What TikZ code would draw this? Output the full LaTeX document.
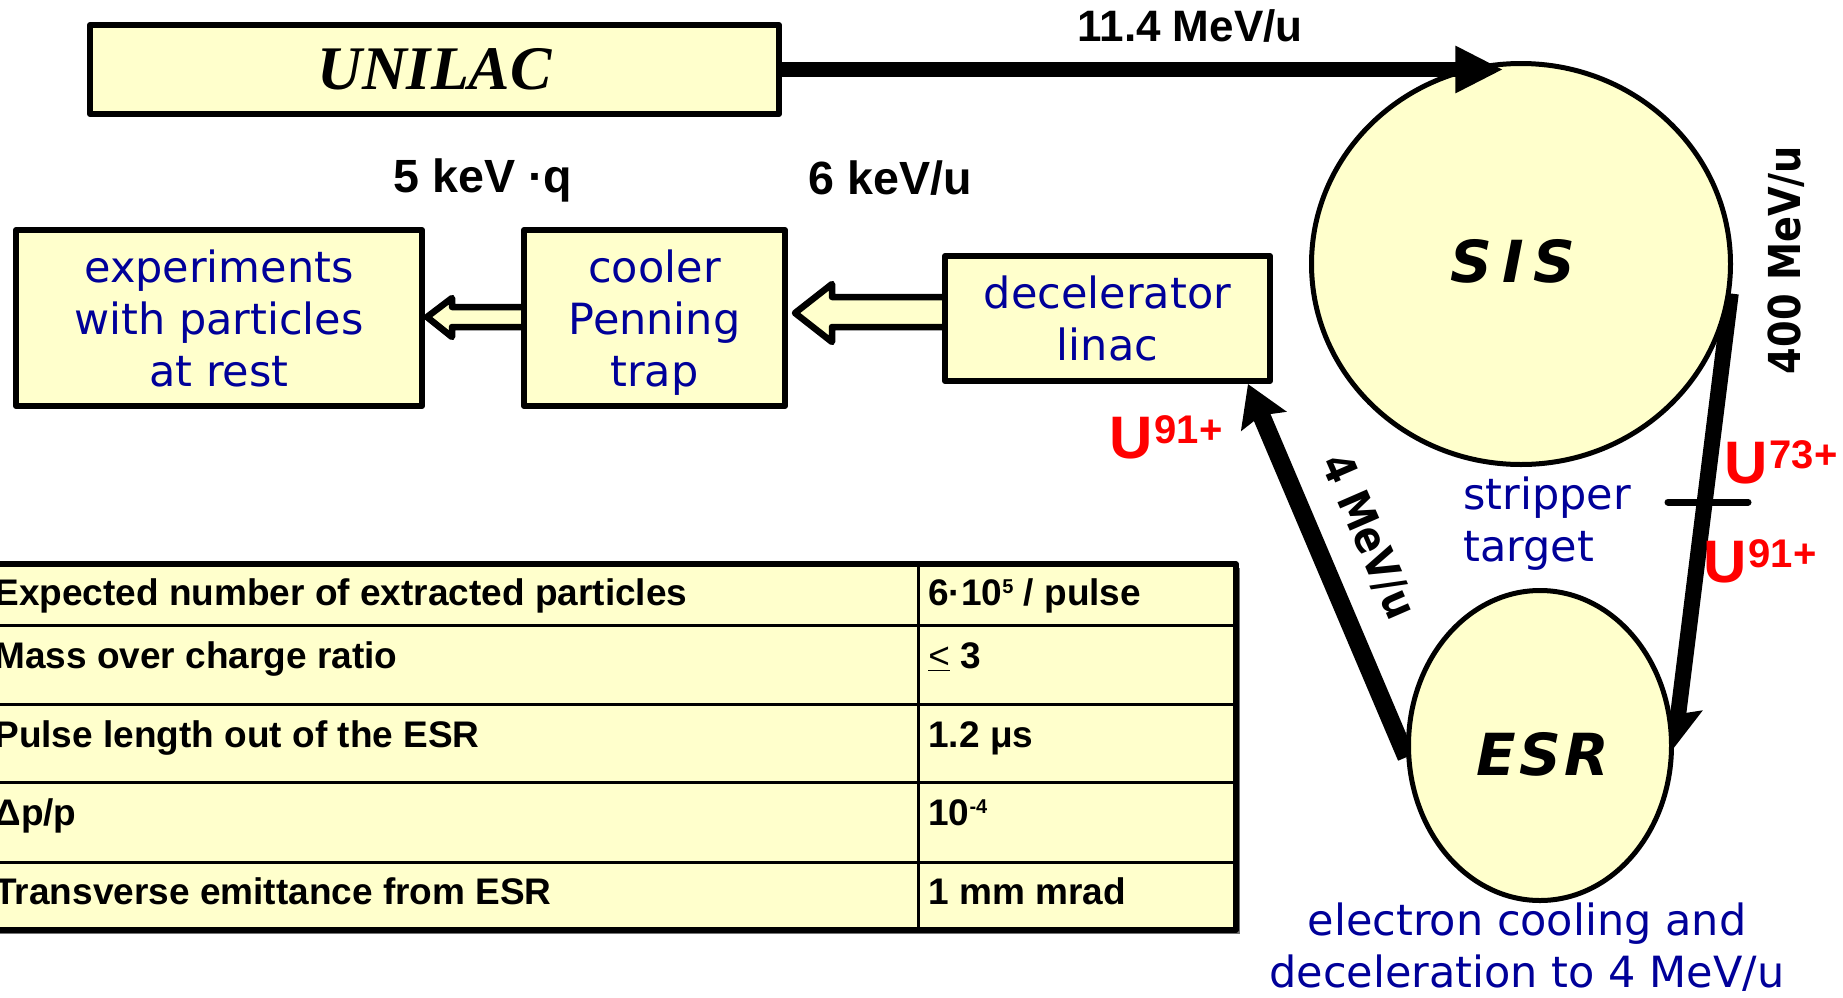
\documentclass[tikz,border=0pt]{standalone}
\usepackage{fontspec}
\setmainfont{Liberation Sans}
\newfontfamily\comic{DejaVu Sans}
\newfontfamily\verd{DejaVu Sans}
\newfontfamily\tms{Liberation Serif}
\usetikzlibrary{arrows.meta,shapes.geometric,calc}
\pgfdeclarelayer{back}
\pgfsetlayers{back,main}
\definecolor{fillY}{HTML}{FFFFCC}
\definecolor{navy}{RGB}{0,0,153}
\definecolor{redU}{HTML}{FF0000}
\newcommand{\ionsup}[1]{\kern1pt\raisebox{7.2pt}{\fontsize{20}{20}\selectfont #1}}
\begin{document}
\begin{tikzpicture}[x=0.5pt,y=-0.5pt,line join=round,
  box/.style={draw,line width=3pt,fill=fillY,rectangle,inner sep=0pt,text=navy,align=center,font=\comic\fontsize{21.5}{26}\selectfont},
  ring/.style={draw,line width=2.5pt,fill=fillY,ellipse,inner sep=0pt},
  ringlbl/.style={font=\verd\bfseries\itshape\fontsize{29}{30}\selectfont,inner sep=0pt},
  energy/.style={font=\bfseries\fontsize{22}{26}\selectfont,inner sep=0pt,anchor=base},
  venergy/.style={font=\verd\bfseries\fontsize{22}{24}\selectfont,inner sep=0pt},
  note/.style={text=navy,font=\comic\fontsize{21.5}{26}\selectfont,inner sep=0pt},
  ion/.style={text=redU,font=\bfseries\fontsize{30}{32}\selectfont,inner sep=0pt,anchor=base west},
  hollow/.style={draw,line width=3.25pt,fill=fillY,line join=round},
  beam/.style={line width=#1,-{Stealth[length=20pt,width=23pt,inset=3pt]}},
  tabtxt/.style={font=\bfseries\fontsize{18.5}{20}\selectfont,inner sep=0pt,anchor=base west},
]
\useasboundingbox (0,0) rectangle (1843,997);
\clip (0,0) rectangle (1843,997);

% ---------- boxes ----------
\node[box,text=black,font=\tms\bfseries\itshape\fontsize{31}{31}\selectfont,
      minimum width=344.5pt,minimum height=44.5pt] (unilac) at (434.5,69.5) {UNILAC};
\node[box,minimum width=203pt,minimum height=88pt] (expts) at (219,318) {experiments\\with particles\\at rest};
\node[box,minimum width=130.5pt,minimum height=88pt] (cooler) at (654.5,318)
  {cooler\\Penning\\\raisebox{0pt}[\height][0pt]{trap}};
\node[box,minimum width=162.5pt,minimum height=62.5pt] (decel) at (1107.5,318.5) {decelerator\\linac};

% ---------- rings ----------
\node[ring,minimum width=209.5pt,minimum height=200.5pt] (sis) at (1521,264) {};
\node[ringlbl] (sistxt) at (1513,261) {S\kern5pt I\kern5pt S};
\node[ring,minimum width=131.5pt,minimum height=155pt] (esr) at (1540,745.5) {};
\node[ringlbl] (esrtxt) at (1543,754) {E\kern1.5pt S\kern1.5pt R};

% ---------- hollow arrows and beams behind boxes/rings ----------
\begin{pgfonlayer}{back}
\draw[hollow] ($(expts.east)+(2,-1)$) -- ++(25,-19) -- ++(0,9)
  -- ($(cooler.west)+(9,-11)$) -- ++(0,20)
  -- ($(expts.east)+(27,9)$) -- ++(0,10) -- cycle;
\draw[hollow] ($(cooler.east)+(7,-5)$) -- ++(37,-29) -- ++(0,13)
  -- ($(decel.west)+(13,-21.5)$) -- ++(0,30)
  -- ($(cooler.east)+(44,9)$) -- ++(0,15) -- cycle;
\draw[beam=8pt] (sis.-8) -- (esr.-1);
\draw[line width=9pt,-{Stealth[length=20pt,width=24pt,inset=3pt]}] (esr.185) -- (decel.-25.8);
\end{pgfonlayer}

% ---------- UNILAC -> SIS ----------
\draw[line width=7.5pt,-{Triangle[length=24pt,width=22pt]}] (unilac.east) -- (unilac.east -| sis.95);

% stripper target
\draw[line width=3.5pt,line cap=round] (1668,502) -- (1748,502);
\node[note,align=left,anchor=west] (strip) at (1463,524) {stripper\\target};
\node[note,align=center] (ecool) at (1527,947) {electron cooling and\\deceleration to 4 MeV/u};

% ---------- energies ----------
\node[energy] (e114) at (1190,41) {11.4 MeV/u};
\node[energy,font=\bfseries\fontsize{23.3}{26}\selectfont] (e5k) at (483,192) {5 keV ·q};
\node[energy,font=\bfseries\fontsize{23.3}{26}\selectfont] (e6k) at (890,194) {6 keV/u};
\node[venergy,rotate=90] (e400) at (1786,260) {\scalebox{0.87}[1]{400 MeV/u}};
\node[venergy,rotate=-66.5] (e4) at (1368,537) {\scalebox{0.87}[1]{4 MeV/u}};

% ---------- ions ----------
\node[ion] (u91a) at (1109,458) {U\ionsup{91+}};
\node[ion] (u73) at (1724,483) {U\ionsup{73+}};
\node[ion] (u91b) at (1703,582) {U\ionsup{91+}};

% ---------- table ----------
\fill[black!55] (-10,568) rectangle (1240,934);
\filldraw[fill=fillY,draw=black,line width=2.75pt] (-10,564) rectangle (1236,930);
\draw[line width=1.5pt] (918,564) -- (918,930);
\foreach \yy in {625,704,782,862} \draw[line width=1.5pt] (-10,\yy) -- (1236,\yy);
\node[tabtxt] (t1a) at (-6,605) {Expected number of extracted particles};
\node[tabtxt] (t2a) at (-6,668) {Mass over charge ratio};
\node[tabtxt] (t3a) at (-6,747) {Pulse length out of the ESR};
\node[tabtxt] (t4a) at (-6,825) {Δp/p};
\node[tabtxt] (t5a) at (-6,904) {Transverse emittance from ESR};
\node[tabtxt] (t1b) at (928,605) {6·10\raisebox{6pt}{\fontsize{10}{10}\selectfont 5} / pulse};
\node[tabtxt] (t2b) at (928,668) {{\mdseries\underline{<}} 3};
\node[tabtxt] (t3b) at (928,747) {1.2 μs};
\node[tabtxt] (t4b) at (928,825) {10\raisebox{6pt}{\fontsize{10}{10}\selectfont -4}};
\node[tabtxt] (t5b) at (928,904) {1 mm mrad};
\end{tikzpicture}
\end{document}
